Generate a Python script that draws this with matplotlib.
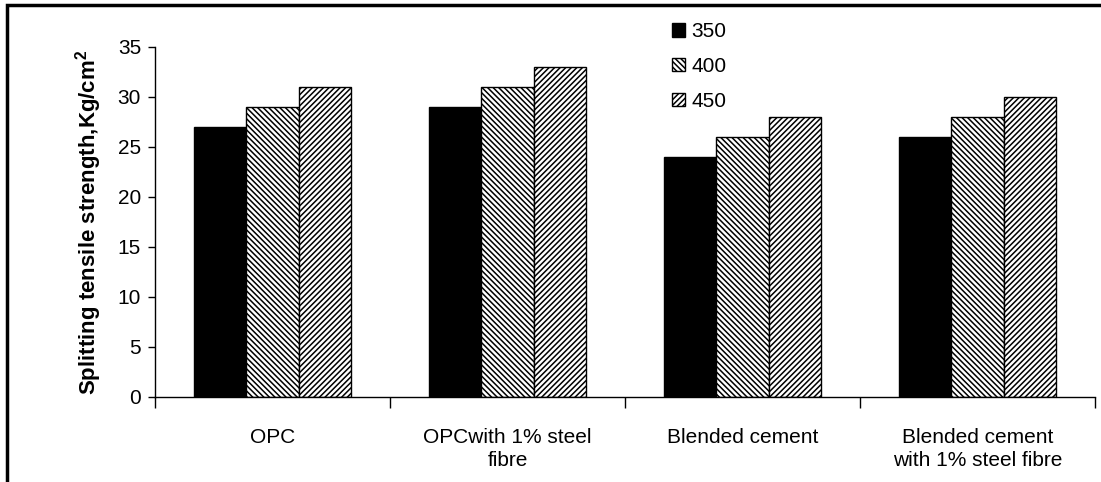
import numpy as np
import matplotlib
matplotlib.use('Agg')
import matplotlib.pyplot as plt
from matplotlib.patches import Rectangle

plt.rcParams['font.family'] = ['Liberation Sans', 'DejaVu Sans']
plt.rcParams['hatch.linewidth'] = 1.1

# splitting tensile strength (Kg/cm2) per mix, for each cement content
categories = ['OPC', 'OPCwith 1% steel\nfibre', 'Blended cement',
              'Blended cement\nwith 1% steel fibre']
series_names = ['350', '400', '450']
s350 = [27, 29, 24, 26]
s400 = [29, 31, 26, 28]
s450 = [31, 33, 28, 30]

fig = plt.figure(figsize=(11.01, 4.82), dpi=100)
ax = fig.add_axes([155 / 1101, 1 - 397 / 482, 940 / 1101, 350 / 482])

x = np.arange(len(categories))
w = 1 / 4.5
styles = [dict(color='black'),
          dict(facecolor='white', hatch='\\' * 6),
          dict(facecolor='white', hatch='/' * 6)]
for k, (vals, name) in enumerate(zip([s350, s400, s450], series_names)):
    ax.bar(x + (k - 1) * w, vals, w, edgecolor='black', linewidth=1.0,
           label=name, **styles[k])

ax.set_xlim(-0.5, len(categories) - 0.5)
ax.set_ylim(0, 35)
ax.set_yticks(range(0, 36, 5))
ax.set_xticks(x)
ax.set_xticklabels(categories, fontsize=15, linespacing=1.3)
ax.set_xticks(np.arange(-0.5, len(categories), 1), minor=True)
ax.tick_params(axis='x', which='major', length=0, pad=22)
ax.tick_params(axis='x', which='minor', length=8, width=1, direction='out')
ax.tick_params(axis='y', length=5, width=1, direction='out', labelsize=15, pad=5)
for s in ['top', 'right']:
    ax.spines[s].set_visible(False)
for s in ['left', 'bottom']:
    ax.spines[s].set_linewidth(1.0)

ax.set_ylabel('Splitting tensile strength,Kg/cm$^{\\mathregular{2}}$', fontsize=16,
              fontweight='bold', labelpad=10)

fig.legend(loc='upper left', bbox_to_anchor=(662 / 1101, 1 - 12 / 482),
           frameon=False, fontsize=15, handlelength=0.6, handleheight=0.6,
           handletextpad=0.3, labelspacing=0.75, borderpad=0)

# outer frame, clipped on the right and bottom
fig.patches.append(Rectangle((7 / 1101, -0.1), 1.2, 1 - 5 / 482 + 0.1,
                             transform=fig.transFigure, fill=False,
                             edgecolor='black', linewidth=2.5))

fig.savefig('out.png', dpi=100)
